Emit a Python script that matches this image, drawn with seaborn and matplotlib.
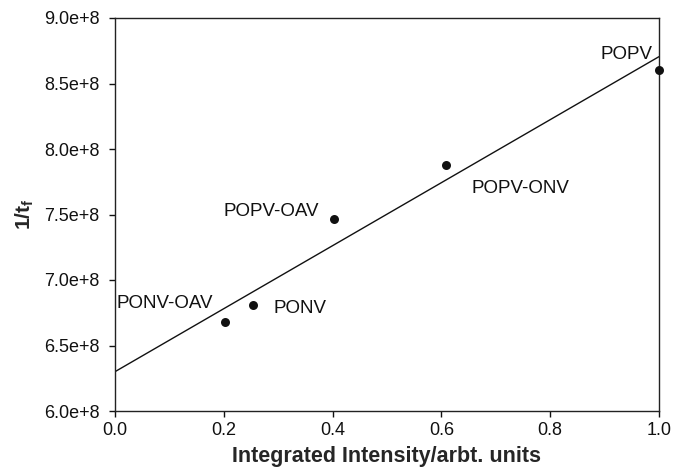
import matplotlib
matplotlib.use("Agg")
import matplotlib.pyplot as plt
import seaborn as sns
import pandas as pd

sns.set_theme(style="white")
plt.rcParams['font.family'] = ['Liberation Sans', 'DejaVu Sans']
plt.rcParams['mathtext.fontset'] = 'custom'
plt.rcParams['mathtext.rm'] = 'Liberation Sans'
plt.rcParams['mathtext.it'] = 'Liberation Sans:italic'
plt.rcParams['mathtext.bf'] = 'Liberation Sans:bold'

# Data
labels = ["PONV-OAV", "PONV", "POPV-OAV", "POPV-ONV", "POPV"]
intensity = [0.202, 0.253, 0.403, 0.608, 1.0]
inv_tf = [6.677e8, 6.807e8, 7.466e8, 7.878e8, 8.603e8]
label_x = [0.003, 0.292, 0.200, 0.656, 0.892]
label_y = [6.817e8, 6.784e8, 7.521e8, 7.695e8, 8.725e8]
xticks = [0.0, 0.2, 0.4, 0.6, 0.8, 1.0]
yticks = [6.0e8, 6.5e8, 7.0e8, 7.5e8, 8.0e8, 8.5e8, 9.0e8]

df = pd.DataFrame({"x": intensity, "y": inv_tf, "label": labels})

fig = plt.figure(figsize=(6.74, 4.72), dpi=100)
ax = fig.add_axes([115/674, 1-411/472, 544/674, 393/472])
ax.set_xlim(0, 1.0)
ax.set_ylim(6.0e8, 9.0e8)

sns.regplot(data=df, x="x", y="y", ax=ax, ci=None, truncate=False,
            scatter_kws=dict(s=42, color="#111111", alpha=1, zorder=3, clip_on=False, linewidths=0),
            line_kws=dict(color="#111111", lw=1.0))

for lab, lx, ly in zip(labels, label_x, label_y):
    ax.text(lx, ly, lab, fontsize=13.5, va="center", ha="left", color="#111111")

ax.set_xticks(xticks)
ax.set_xticklabels([f"{t:.1f}" for t in xticks])
ax.set_yticks(yticks)
ax.set_yticklabels([f"{t/1e8:.1f}e+8" for t in yticks])
ax.tick_params(axis="both", which="major", direction="out", length=4, width=1, pad=4,
               labelsize=13, colors="#111111", bottom=True, left=True, top=False, right=False)
ax.tick_params(axis="y", pad=7)
for s in ax.spines.values():
    s.set_color("#222222")
    s.set_linewidth(1.0)

ax.set_xlabel("Integrated Intensity/arbt. units", fontsize=15.5, fontweight="bold", labelpad=5)
ax.set_ylabel(r"$\mathbf{1/t_f}$", fontsize=15, labelpad=6)

fig.savefig("out.png", dpi=100)
